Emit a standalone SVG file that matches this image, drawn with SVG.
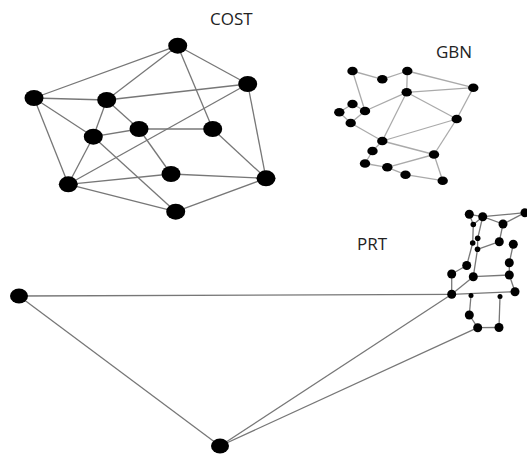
<svg xmlns="http://www.w3.org/2000/svg" width="527" height="454" viewBox="0 0 527 454">
<style>
.lbl{font-family:"Open Sans","Liberation Sans",sans-serif;font-size:17px;fill:#222}
.e{stroke:#777;stroke-width:1.3;fill:none}
.eg{stroke:#aaa;stroke-width:1.3;fill:none}
.n{fill:#000}
</style>
<rect width="527" height="454" fill="#fff"/>
<text class="lbl" x="210" y="25">COST</text>
<text class="lbl" x="436" y="57.5">GBN</text>
<text class="lbl" x="357" y="250">PRT</text>
<g id="connectors">
<g class="e">
<line x1="177.7" y1="45.7" x2="34" y2="98"/>
<line x1="177.7" y1="45.7" x2="106.7" y2="100"/>
<line x1="177.7" y1="45.7" x2="247.7" y2="84"/>
<line x1="177.7" y1="45.7" x2="212.7" y2="129"/>
<line x1="34" y1="98" x2="106.7" y2="100"/>
<line x1="34" y1="98" x2="93.3" y2="136.7"/>
<line x1="34" y1="98" x2="68.3" y2="184.3"/>
<line x1="106.7" y1="100" x2="247.7" y2="84"/>
<line x1="106.7" y1="100" x2="93.3" y2="136.7"/>
<line x1="106.7" y1="100" x2="139" y2="129"/>
<line x1="247.7" y1="84" x2="68.3" y2="184.3"/>
<line x1="247.7" y1="84" x2="266" y2="178.3"/>
<line x1="93.3" y1="136.7" x2="139" y2="129"/>
<line x1="93.3" y1="136.7" x2="68.3" y2="184.3"/>
<line x1="93.3" y1="136.7" x2="175.7" y2="211.7"/>
<line x1="139" y1="129" x2="212.7" y2="129"/>
<line x1="139" y1="129" x2="171" y2="174"/>
<line x1="212.7" y1="129" x2="266" y2="178.3"/>
<line x1="68.3" y1="184.3" x2="171" y2="174"/>
<line x1="68.3" y1="184.3" x2="175.7" y2="211.7"/>
<line x1="171" y1="174" x2="266" y2="178.3"/>
<line x1="175.7" y1="211.7" x2="266" y2="178.3"/>
</g>
<g class="eg">
<line x1="352.5" y1="71" x2="382.3" y2="79.3"/>
<line x1="352.5" y1="71" x2="365" y2="111"/>
<line x1="382.3" y1="79.3" x2="407.3" y2="71"/>
<line x1="407.3" y1="71" x2="406.7" y2="92.3"/>
<line x1="407.3" y1="71" x2="473.3" y2="87.7"/>
<line x1="406.7" y1="92.3" x2="473.3" y2="87.7"/>
<line x1="406.7" y1="92.3" x2="365" y2="111"/>
<line x1="406.7" y1="92.3" x2="456.7" y2="119"/>
<line x1="406.7" y1="92.3" x2="382.3" y2="141"/>
<line x1="473.3" y1="87.7" x2="456.7" y2="119"/>
<line x1="339.3" y1="112.3" x2="352.5" y2="104"/>
<line x1="352.5" y1="104" x2="365" y2="111"/>
<line x1="365" y1="111" x2="350.7" y2="123"/>
<line x1="350.7" y1="123" x2="339.3" y2="112.3"/>
<line x1="350.7" y1="123" x2="382.3" y2="141"/>
<line x1="382.3" y1="141" x2="456.7" y2="119"/>
<line x1="382.3" y1="141" x2="434" y2="154.5"/>
<line x1="382.3" y1="141" x2="372.5" y2="151"/>
<line x1="456.7" y1="119" x2="434" y2="154.5"/>
<line x1="372.5" y1="151" x2="365" y2="163.5"/>
<line x1="365" y1="163.5" x2="387.3" y2="167.3"/>
<line x1="387.3" y1="167.3" x2="434" y2="154.5"/>
<line x1="387.3" y1="167.3" x2="405.5" y2="174.7"/>
<line x1="405.5" y1="174.7" x2="442.7" y2="180.7"/>
<line x1="434" y1="154.5" x2="442.7" y2="180.7"/>
</g>
<g class="e">
<line x1="19" y1="296" x2="451.7" y2="294.3"/>
<line x1="19" y1="296" x2="220" y2="446"/>
<line x1="220" y1="446" x2="451.7" y2="294.3"/>
<line x1="220" y1="446" x2="477.7" y2="327.7"/>
<line x1="469.3" y1="214.3" x2="482.7" y2="216.7"/>
<line x1="482.7" y1="216.7" x2="525" y2="212.7"/>
<line x1="525" y1="212.7" x2="503" y2="224"/>
<line x1="482.7" y1="216.7" x2="503" y2="224"/>
<line x1="469.3" y1="214.3" x2="473.3" y2="224.5"/>
<line x1="482.7" y1="216.7" x2="473.3" y2="224.5"/>
<line x1="473.3" y1="224.5" x2="472.7" y2="243"/>
<line x1="472.7" y1="243" x2="466.7" y2="265.5"/>
<line x1="482.7" y1="216.7" x2="477.7" y2="238.3"/>
<line x1="477.7" y1="238.3" x2="477.5" y2="249.3"/>
<line x1="477.5" y1="249.3" x2="473.3" y2="276.7"/>
<line x1="503" y1="224" x2="499.3" y2="241.7"/>
<line x1="499.3" y1="241.7" x2="477.5" y2="249.3"/>
<line x1="513.3" y1="244.3" x2="509.3" y2="262.7"/>
<line x1="509.3" y1="262.7" x2="509.3" y2="275"/>
<line x1="466.7" y1="265.5" x2="451.7" y2="274"/>
<line x1="451.7" y1="274" x2="451.7" y2="294.3"/>
<line x1="451.7" y1="294.3" x2="473.3" y2="276.7"/>
<line x1="473.3" y1="276.7" x2="509.3" y2="275"/>
<line x1="509.3" y1="275" x2="515" y2="291.7"/>
<line x1="451.7" y1="294.3" x2="515" y2="291.7"/>
<line x1="471" y1="295.5" x2="469.3" y2="315"/>
<line x1="469.3" y1="315" x2="477.7" y2="327.7"/>
<line x1="477.7" y1="327.7" x2="499" y2="327.5"/>
<line x1="499" y1="327.5" x2="500" y2="296.5"/>
</g>
</g>
<g id="cost-nodes" class="n">
<ellipse id="c1" cx="177.7" cy="45.7" rx="9.5" ry="8"/>
<ellipse id="c2" cx="247.7" cy="84" rx="9.5" ry="8"/>
<ellipse id="c3" cx="34" cy="98" rx="9.5" ry="8"/>
<ellipse id="c4" cx="106.7" cy="100" rx="9.5" ry="8"/>
<ellipse id="c5" cx="139" cy="129" rx="9.5" ry="8"/>
<ellipse id="c6" cx="212.7" cy="129" rx="9.5" ry="8"/>
<ellipse id="c7" cx="93.3" cy="136.7" rx="9.5" ry="8"/>
<ellipse id="c8" cx="171" cy="174" rx="9.5" ry="8"/>
<ellipse id="c9" cx="266" cy="178.3" rx="9.5" ry="8"/>
<ellipse id="c10" cx="68.3" cy="184.3" rx="9.5" ry="8"/>
<ellipse id="c11" cx="175.7" cy="211.7" rx="9.5" ry="8"/>
</g>
<g id="gbn-nodes" class="n">
<ellipse id="g1" cx="352.5" cy="71" rx="5.2" ry="4.3"/>
<ellipse id="g2" cx="382.3" cy="79.3" rx="5.2" ry="4.3"/>
<ellipse id="g3" cx="407.3" cy="71" rx="5.2" ry="4.3"/>
<ellipse id="g4" cx="473.3" cy="87.7" rx="5.2" ry="4.3"/>
<ellipse id="g5" cx="406.7" cy="92.3" rx="5.2" ry="4.3"/>
<ellipse id="g6" cx="352.5" cy="104" rx="5.2" ry="4.3"/>
<ellipse id="g7" cx="339.3" cy="112.3" rx="5.2" ry="4.3"/>
<ellipse id="g8" cx="365" cy="111" rx="5.2" ry="4.3"/>
<ellipse id="g9" cx="350.7" cy="123" rx="5.2" ry="4.3"/>
<ellipse id="g10" cx="456.7" cy="119" rx="5.2" ry="4.3"/>
<ellipse id="g11" cx="382.3" cy="141" rx="5.2" ry="4.3"/>
<ellipse id="g12" cx="372.5" cy="151" rx="5.2" ry="4.3"/>
<ellipse id="g13" cx="434" cy="154.5" rx="5.2" ry="4.3"/>
<ellipse id="g14" cx="365" cy="163.5" rx="5.2" ry="4.3"/>
<ellipse id="g15" cx="387.3" cy="167.3" rx="5.2" ry="4.3"/>
<ellipse id="g16" cx="405.5" cy="174.7" rx="5.2" ry="4.3"/>
<ellipse id="g17" cx="442.7" cy="180.7" rx="5.2" ry="4.3"/>
</g>
<g id="prt-nodes" class="n">
<ellipse id="pL" cx="19" cy="296" rx="9" ry="7.5"/>
<ellipse id="pB" cx="220" cy="446" rx="9" ry="7.5"/>
<circle id="p1" cx="469.3" cy="214.3" r="4.5"/>
<circle id="p2" cx="482.7" cy="216.7" r="4.5"/>
<circle id="p3" cx="525" cy="212.7" r="4.5"/>
<circle id="p4" cx="503" cy="224" r="4.5"/>
<circle id="p5" cx="473.3" cy="224.5" r="2.8"/>
<circle id="p6" cx="477.7" cy="238.3" r="2.8"/>
<circle id="p7" cx="472.7" cy="243" r="2.8"/>
<circle id="p8" cx="477.5" cy="249.3" r="2.8"/>
<circle id="p9" cx="499.3" cy="241.7" r="4.5"/>
<circle id="p10" cx="513.3" cy="244.3" r="4.5"/>
<circle id="p11" cx="509.3" cy="262.7" r="4.5"/>
<circle id="p12" cx="466.7" cy="265.5" r="4.5"/>
<circle id="p13" cx="451.7" cy="274" r="4.5"/>
<circle id="p14" cx="473.3" cy="276.7" r="4.5"/>
<circle id="p15" cx="509.3" cy="275" r="4.5"/>
<circle id="p16" cx="515" cy="291.7" r="4.5"/>
<circle id="p17" cx="451.7" cy="294.3" r="4.5"/>
<circle id="p18" cx="471" cy="295.5" r="2.5"/>
<circle id="p19" cx="500" cy="296.5" r="2.5"/>
<circle id="p20" cx="469.3" cy="315" r="4.5"/>
<circle id="p21" cx="477.7" cy="327.7" r="4.5"/>
<circle id="p22" cx="499" cy="327.5" r="4.5"/>
</g>
</svg>
